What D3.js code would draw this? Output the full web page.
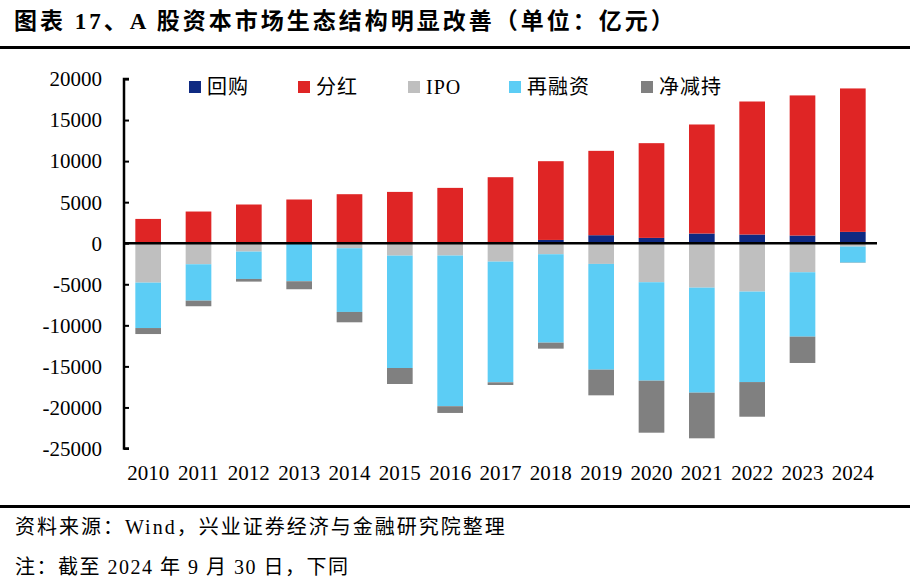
<!DOCTYPE html>
<html>
<head>
<meta charset="utf-8">
<script src="https://cdn.jsdelivr.net/npm/d3@7"></script>
<style>
  html, body { margin: 0; padding: 0; background: #fff; }
  svg { display: block; }
</style>
</head>
<body>
<svg id="chart" width="910" height="585"></svg>
<script>
const years = ["2010","2011","2012","2013","2014","2015","2016","2017","2018","2019","2020","2021","2022","2023","2024"];
const seriesNames = ["回购", "分红", "IPO", "再融资", "净减持"];
const repurchase = [10, 10, 20, 20, 50, 100, 80, 100, 400, 975, 650, 1180, 1060, 935, 1380];
const dividend   = [2950, 3850, 4695, 5305, 5920, 6150, 6660, 7940, 9590, 10275, 11535, 13280, 16200, 17065, 17470];
const ipo        = [-4800, -2560, -1020, 0, -610, -1510, -1500, -2240, -1340, -2520, -4750, -5410, -5890, -3535, -410];
const refinance  = [-5530, -4435, -3330, -4630, -7760, -13685, -18350, -14700, -10770, -12880, -11990, -12790, -11020, -7845, -1950];
const reduction  = [-730, -680, -325, -975, -1260, -1950, -820, -325, -730, -3125, -6335, -5560, -4220, -3205, -30];
const yTicks = [20000, 15000, 10000, 5000, 0, -5000, -10000, -15000, -20000, -25000];
const colors = ["#0f2a82", "#df2525", "#bfbfbf", "#5ccdf5", "#808080"];

const titleText = "图表 17、A 股资本市场生态结构明显改善（单位：亿元）";
const sourceText = "资料来源：Wind，兴业证券经济与金融研究院整理";
const noteText = "注：截至 2024 年 9 月 30 日，下同";

const seriesArrays = [repurchase, dividend, ipo, refinance, reduction];
const table = years.map((y, i) => {
  const row = { year: y };
  seriesNames.forEach((s, k) => { row[s] = seriesArrays[k][i]; });
  return row;
});

const svg = d3.select("#chart");
const FONT = "'Liberation Serif', 'Noto Sans CJK SC', serif";

const x = d3.scaleBand().domain(years).range([123, 878]).paddingInner(0.49).paddingOuter(0.245);
const y = d3.scaleLinear().domain([-25000, 20000]).range([448.5, 79]);

const stack = d3.stack().keys(seriesNames).offset(d3.stackOffsetDiverging);
const stacked = stack(table);

// Title
svg.append("text").attr("x", 14).attr("y", 29)
  .attr("font-family", FONT).attr("font-size", 23).attr("font-weight", "bold")
  .attr("letter-spacing", 3).attr("fill", "#000").text(titleText);
svg.append("rect").attr("x", 0).attr("y", 46).attr("width", 910).attr("height", 3).attr("fill", "#000");

// Bars
svg.append("g").selectAll("g").data(stacked).join("g")
  .attr("fill", (d, i) => colors[i])
  .selectAll("rect").data(d => d).join("rect")
  .attr("x", d => x(d.data.year))
  .attr("width", x.bandwidth())
  .attr("y", d => y(Math.max(d[0], d[1])))
  .attr("height", d => Math.abs(y(d[0]) - y(d[1])));

// Y axis
const yAxis = d3.axisRight(y).tickValues(yTicks).tickSize(5).tickFormat("");
const gy = svg.append("g").attr("transform", "translate(124,0)").call(yAxis);
gy.select(".domain").attr("stroke", "#000").attr("stroke-width", 2.5)
  .attr("d", `M5,${y(20000)}H0V${y(-25000)}H5`);
gy.selectAll(".tick line").attr("stroke", "#000").attr("stroke-width", 2);

svg.append("g").selectAll("text").data(yTicks).join("text")
  .attr("x", 102).attr("y", d => y(d)).attr("dy", "0.35em")
  .attr("text-anchor", "end").attr("font-family", FONT).attr("font-size", 21)
  .attr("fill", "#000").text(d => d);

// Zero line
svg.append("line").attr("x1", 124).attr("x2", 877).attr("y1", y(0)).attr("y2", y(0))
  .attr("stroke", "#000").attr("stroke-width", 2.5);

// X labels
svg.append("g").selectAll("text").data(years).join("text")
  .attr("x", d => x(d) + x.bandwidth() / 2).attr("y", 480)
  .attr("text-anchor", "middle").attr("font-family", FONT).attr("font-size", 21)
  .attr("fill", "#000").text(d => d);

// Legend
const legendX = [189, 298, 408, 509, 641];
const lg = svg.append("g").selectAll("g").data(seriesNames).join("g")
  .attr("transform", (d, i) => `translate(${legendX[i]},81)`);
lg.append("rect").attr("width", 12).attr("height", 12).attr("fill", (d, i) => colors[i]);
lg.append("text").attr("x", 18).attr("y", 6).attr("dy", "0.36em")
  .attr("font-family", FONT).attr("font-size", 20).attr("letter-spacing", 1).attr("fill", "#000").text(d => d);

// Footer
svg.append("rect").attr("x", 0).attr("y", 505).attr("width", 910).attr("height", 3).attr("fill", "#000");
svg.append("text").attr("x", 15).attr("y", 534)
  .attr("font-family", FONT).attr("font-size", 20).attr("letter-spacing", 2).attr("fill", "#000").text(sourceText);
svg.append("text").attr("x", 15).attr("y", 574)
  .attr("font-family", FONT).attr("font-size", 20).attr("letter-spacing", 1.5).attr("fill", "#000").text(noteText);
</script>
</body>
</html>
